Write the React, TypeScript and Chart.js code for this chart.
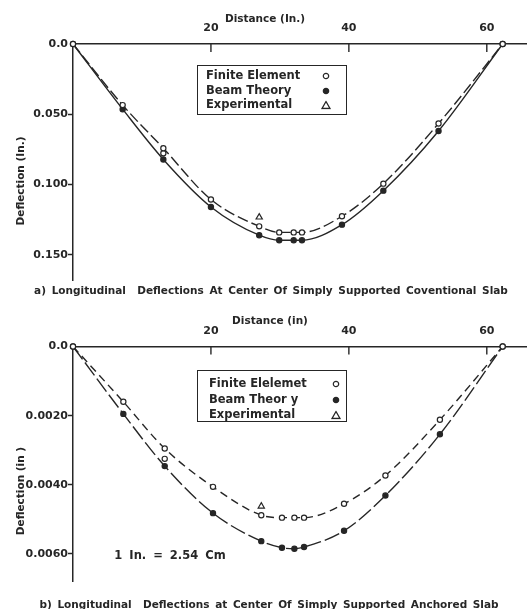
import React, { useEffect, useRef } from "react";
import { Chart, registerables } from "chart.js";
Chart.register(...registerables);

// ---------- data ----------
const xTickValues = [20, 40, 60];

// (a) conventional slab
const distA = [0, 7.2, 13.1, 20.0, 27.0, 29.9, 32.0, 33.2, 39.0, 45.0, 53.0, 62.3];
const feA = [0, 0.0435, 0.0742, 0.1107, 0.1298, 0.1341, 0.1341, 0.1341, 0.1226, 0.0994, 0.0566, 0];
const beamA = [0, 0.0464, 0.0822, 0.116, 0.1361, 0.1397, 0.1397, 0.1397, 0.1286, 0.1044, 0.0619, 0];
const expDistA = [13.1, 27.0];
const expA = [0.0778, 0.1233];
const yTicksA = [0, 0.05, 0.1, 0.15];
const yLabelsA = ["0.0", "0.050", "0.100", "0.150"];

// (b) anchored slab
const distB = [0, 7.3, 13.3, 20.3, 27.3, 30.3, 32.1, 33.5, 39.3, 45.3, 53.2, 62.3];
const feB = [0, 0.0016, 0.00295, 0.00406, 0.00488, 0.00495, 0.00495, 0.00495, 0.00455, 0.00373, 0.00212, 0];
const beamB = [0, 0.00195, 0.00346, 0.00482, 0.00563, 0.00582, 0.00585, 0.0058, 0.00533, 0.00431, 0.00254, 0];
const expDistB = [13.3, 27.3];
const expB = [0.00325, 0.00462];
const yTicksB = [0, 0.002, 0.004, 0.006];
const yLabelsB = ["0.0", "0.0020", "0.0040", "0.0060"];

const legendA = ["Finite Element", "Beam Theory", "Experimental"];
const legendB = ["Finite Elelemet", "Beam Theor y", "Experimental"];

const ink = "#262626";
const FONT = "'DejaVu Sans', sans-serif";

const inwardTicks = {
  id: "inwardTicks",
  afterDraw(chart: any) {
    const { ctx, chartArea, scales } = chart;
    const xs = scales.x;
    ctx.save();
    ctx.strokeStyle = ink;
    ctx.lineWidth = 1.4;
    xs.ticks.forEach((t: any) => {
      const px = xs.getPixelForValue(t.value);
      ctx.beginPath();
      ctx.moveTo(px, chartArea.top);
      ctx.lineTo(px, chartArea.top + 8);
      ctx.stroke();
    });
    ctx.restore();
  },
};

type PanelProps = {
  dist: number[];
  fe: number[];
  beam: number[];
  expDist: number[];
  exp: number[];
  yTicks: number[];
  yLabels: string[];
  yMax: number;
  xMax: number;
  height: number;
  top: number;
  axisTop: number;
  bottomPad: number;
  feDash: number[];
  beamDash: number[];
};

function Panel(p: PanelProps) {
  const ref = useRef<HTMLCanvasElement | null>(null);
  useEffect(() => {
    if (!ref.current) return;
    const pt = (xs: number[], ys: number[]) => xs.map((x, i) => ({ x, y: ys[i] }));
    const chart = new Chart(ref.current, {
      type: "line",
      data: {
        datasets: [
          {
            label: "Finite Element",
            data: pt(p.dist, p.fe),
            borderColor: ink,
            borderWidth: 1.4,
            borderDash: p.feDash,
            pointRadius: 2.6,
            pointBackgroundColor: "#fff",
            pointBorderColor: ink,
            pointBorderWidth: 1.2,
            cubicInterpolationMode: "monotone",
            fill: false,
            clip: false,
          } as any,
          {
            label: "Beam Theory",
            data: pt(p.dist, p.beam),
            borderColor: ink,
            borderWidth: 1.4,
            borderDash: p.beamDash,
            pointRadius: 2.6,
            pointBackgroundColor: ink,
            pointBorderColor: ink,
            pointBorderWidth: 1.2,
            cubicInterpolationMode: "monotone",
            fill: false,
            clip: false,
          } as any,
          {
            label: "Experimental",
            data: pt(p.expDist, p.exp),
            showLine: false,
            pointStyle: ["circle", "triangle"],
            pointRadius: [2.6, 3.6],
            pointBackgroundColor: "#fff",
            pointBorderColor: ink,
            pointBorderWidth: 1.2,
            clip: false,
          } as any,
        ],
      },
      options: {
        animation: false,
        responsive: false,
        layout: { padding: { left: 0, right: 0, top: 0, bottom: p.bottomPad } },
        plugins: { legend: { display: false }, tooltip: { enabled: false } },
        scales: {
          x: {
            type: "linear",
            position: "top",
            min: 0,
            max: p.xMax,
            afterBuildTicks: (s: any) => {
              s.ticks = xTickValues.map((v) => ({ value: v }));
            },
            afterFit: (s: any) => {
              s.height = p.axisTop;
            },
            grid: { display: false },
            border: { display: true, color: ink, width: 1.5 },
            ticks: {
              padding: 1,
              color: ink,
              font: { family: FONT, size: 11, weight: "bold" },
              callback: (v: any) => String(v),
            },
          },
          y: {
            type: "linear",
            reverse: true,
            min: 0,
            max: p.yMax,
            afterBuildTicks: (s: any) => {
              s.ticks = p.yTicks.map((v) => ({ value: v }));
            },
            afterFit: (s: any) => {
              s.width = 73;
            },
            grid: {
              display: true,
              drawOnChartArea: false,
              drawTicks: true,
              tickLength: 5,
              tickWidth: 1.5,
              tickColor: (c: any) => (c.tick && c.tick.value === 0 ? "rgba(0,0,0,0)" : ink),
            },
            border: { display: true, color: ink, width: 1.5 },
            ticks: {
              padding: 0,
              color: ink,
              font: { family: FONT, size: 11, weight: "bold" },
              callback: (_v: any, i: number) => p.yLabels[i],
            },
          },
        },
      } as any,
      plugins: [inwardTicks],
    });
    return () => chart.destroy();
  }, []);
  return (
    <canvas
      ref={ref}
      width={532}
      height={p.height}
      style={{ position: "absolute", left: 0, top: p.top, width: 532, height: p.height }}
    />
  );
}

function Marker({ kind }: { kind: number }) {
  if (kind === 2) {
    return (
      <svg width="10" height="9" style={{ display: "block" }}>
        <polygon points="5,1 9,8 1,8" fill="#fff" stroke={ink} strokeWidth="1.3" />
      </svg>
    );
  }
  return (
    <svg width="8" height="8" style={{ display: "block" }}>
      <circle cx="4" cy="4" r="2.7" fill={kind === 1 ? ink : "#fff"} stroke={ink} strokeWidth="1.2" />
    </svg>
  );
}

function Legend(props: {
  left: number; top: number; w: number; h: number; rows: number[]; textLeft: number; markLeft: number; labels: string[];
}) {
  return (
    <div
      style={{
        position: "absolute", left: props.left, top: props.top, width: props.w, height: props.h,
        border: `1.5px solid ${ink}`, boxSizing: "border-box", background: "#fff",
      }}
    >
      {props.labels.map((l, i) => (
        <React.Fragment key={l}>
          <div
            style={{
              position: "absolute", left: props.textLeft, top: props.rows[i], transform: "translateY(-50%)",
              fontSize: 11.5, whiteSpace: "nowrap", lineHeight: 1,
            }}
          >
            {l}
          </div>
          <div style={{ position: "absolute", left: props.markLeft, top: props.rows[i], transform: "translate(-50%,-50%)" }}>
            <Marker kind={i} />
          </div>
        </React.Fragment>
      ))}
    </div>
  );
}

function T(props: { x: number; y: number; size: number; text: string; rotate?: boolean; ws?: number }) {
  return (
    <div
      style={{
        position: "absolute", left: props.x, top: props.y, whiteSpace: "pre", fontSize: props.size, lineHeight: 1,
        transform: `translate(-50%,-50%)${props.rotate ? " rotate(-90deg)" : ""}`,
        wordSpacing: props.ws ?? 0,
      }}
    >
      {props.text}
    </div>
  );
}

export default function App() {
  return (
    <div
      style={{
        position: "absolute", left: 0, top: 0, width: 532, height: 609, background: "#fff", overflow: "hidden",
        fontFamily: FONT, fontWeight: "bold", color: ink,
      }}
    >
      <Panel
        dist={distA} fe={feA} beam={beamA} expDist={expDistA} exp={expA}
        yTicks={yTicksA} yLabels={yLabelsA} yMax={0.168} xMax={65.8}
        height={300} top={0} axisTop={44} bottomPad={20} feDash={[11, 4]} beamDash={[]}
      />
      <Panel
        dist={distB} fe={feB} beam={beamB} expDist={expDistB} exp={expB}
        yTicks={yTicksB} yLabels={yLabelsB} yMax={0.0068} xMax={65.8}
        height={309} top={300} axisTop={46.5} bottomPad={27.4} feDash={[8, 5]} beamDash={[16, 4]}
      />
      <T x={265} y={17.6} size={10.5} text="Distance (In.)" />
      <T x={20} y={181} size={10.5} text="Deflection (In.)" rotate />
      <T x={271} y={290} size={10.5} ws={2} text="a) Longitudinal  Deflections At Center Of Simply Supported Coventional Slab" />
      <Legend left={197} top={65} w={150} h={50} rows={[10, 25, 39]} textLeft={8} markLeft={128} labels={legendA} />

      <T x={270} y={320.4} size={10.5} text="Distance (in)" />
      <T x={20} y={491} size={10.5} text="Deflection (in )" rotate />
      <T x={170} y={556} size={11.5} ws={3} text="1 In. = 2.54 Cm" />
      <T x={269} y={603.5} size={10.5} ws={2} text="b) Longitudinal  Deflections at Center Of Simply Supported Anchored Slab" />
      <Legend left={197} top={370} w={150} h={52} rows={[13, 29, 44]} textLeft={11} markLeft={138} labels={legendB} />
    </div>
  );
}
